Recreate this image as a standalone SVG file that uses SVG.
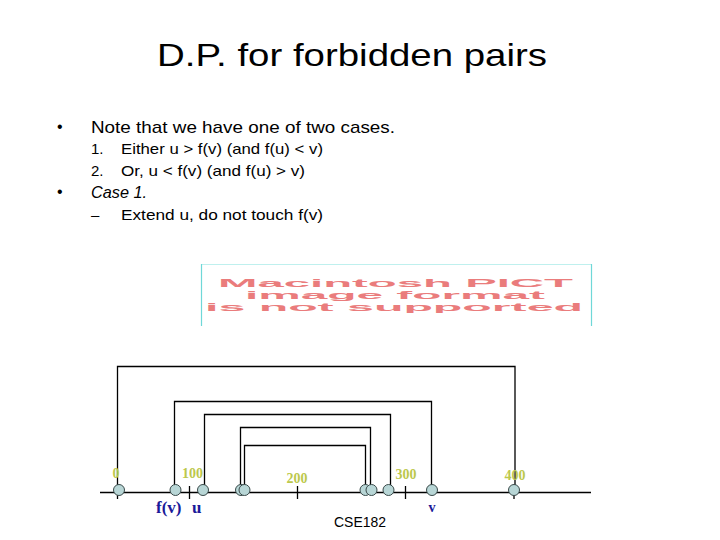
<svg xmlns="http://www.w3.org/2000/svg" width="720" height="540" viewBox="0 0 720 540">
<style>
.t{font-family:"Liberation Sans","DejaVu Sans",sans-serif;fill:#000}
.num{font-family:"Liberation Serif",serif;font-weight:bold;font-size:14px;fill:#bcc84c;text-anchor:middle}
.lab{font-family:"Liberation Serif",serif;font-weight:bold;fill:#1a1a99}
.ln{stroke:#000;stroke-width:1.3;fill:none}
.nd{fill:#b8d6d6;stroke:#3a4a4a;stroke-width:1}
.pict{font-family:"Liberation Sans",sans-serif;font-weight:bold;font-size:10.5px;fill:#ea7c7c}
</style>
<rect width="720" height="540" fill="#fff"/>
<text class="t" x="157" y="66" font-size="32" textLength="390" lengthAdjust="spacingAndGlyphs">D.P. for forbidden pairs</text>
<g id="bullets">
<text class="t" x="57" y="132" font-size="16">•</text>
<text class="t" x="91" y="133" font-size="17" textLength="304" lengthAdjust="spacingAndGlyphs">Note that we have one of two cases.</text>
<text class="t" x="91" y="154" font-size="15">1.</text>
<text class="t" x="121" y="154" font-size="15" textLength="202" lengthAdjust="spacingAndGlyphs">Either u &gt; f(v) (and f(u) &lt; v)</text>
<text class="t" x="91" y="176" font-size="15">2.</text>
<text class="t" x="121" y="176" font-size="15" textLength="184" lengthAdjust="spacingAndGlyphs">Or, u &lt; f(v)  (and f(u) &gt; v)</text>
<text class="t" x="57" y="197" font-size="16">•</text>
<text class="t" x="91" y="198" font-size="17" font-style="italic" textLength="56" lengthAdjust="spacingAndGlyphs">Case 1.</text>
<text class="t" x="91" y="220" font-size="15">–</text>
<text class="t" x="121" y="220" font-size="15" textLength="202" lengthAdjust="spacingAndGlyphs">Extend u, do not touch f(v)</text>
</g>
<g id="pict">
<line x1="201" y1="264.5" x2="592" y2="264.5" stroke="#bff0ee" stroke-width="1"/>
<line x1="201.5" y1="264" x2="201.5" y2="326" stroke="#6fd8d8" stroke-width="1.2"/>
<line x1="591.5" y1="264" x2="591.5" y2="326" stroke="#6fd8d8" stroke-width="1.2"/>
<text class="pict" x="218" y="286.5" textLength="355" lengthAdjust="spacingAndGlyphs">Macintosh PICT</text>
<text class="pict" x="245" y="298.5" textLength="300" lengthAdjust="spacingAndGlyphs">image format</text>
<text class="pict" x="205" y="310.5" textLength="378" lengthAdjust="spacingAndGlyphs">is not supported</text>
</g>
<g id="connectors">
<line class="ln" x1="100" y1="492.5" x2="591" y2="492.5"/>
<path class="ln" d="M117.5,490 V366.5 H515 V490"/>
<path class="ln" d="M174.5,490 V401.5 H431.5 V490"/>
<path class="ln" d="M204.5,490 V414.5 H390.5 V490"/>
<path class="ln" d="M240.5,490 V427.5 H370.5 V490"/>
<path class="ln" d="M244.5,490 V445.5 H365.5 V490"/>
<line class="ln" x1="117.5" y1="492" x2="117.5" y2="499"/>
<line class="ln" x1="189.5" y1="486" x2="189.5" y2="499"/>
<line class="ln" x1="297.5" y1="486" x2="297.5" y2="499"/>
<line class="ln" x1="405.5" y1="486" x2="405.5" y2="499"/>
<line class="ln" x1="514" y1="492" x2="514" y2="499"/>
</g>
<g id="nodes">
<circle id="n0" class="nd" cx="119" cy="490" r="5.5"/>
<circle id="nfv" class="nd" cx="175.5" cy="490" r="5.5"/>
<circle id="nu" class="nd" cx="203" cy="490" r="5.5"/>
<circle id="n3" class="nd" cx="241" cy="490" r="5.5"/>
<circle id="n4" class="nd" cx="244.5" cy="490" r="5.5"/>
<circle id="n5" class="nd" cx="365.5" cy="490" r="5.5"/>
<circle id="n6" class="nd" cx="371.5" cy="490" r="5.5"/>
<circle id="n7" class="nd" cx="388.5" cy="490" r="5.5"/>
<circle id="nv" class="nd" cx="432" cy="490" r="5.5"/>
<circle id="n400" class="nd" cx="514" cy="490" r="5.5"/>
</g>
<g id="labels">
<text class="num" x="116" y="478">0</text>
<text class="num" x="192.5" y="478">100</text>
<text class="num" x="297" y="483">200</text>
<text class="num" x="406" y="479">300</text>
<text class="num" x="515" y="480">400</text>
<text class="lab" x="156" y="513" font-size="17">f(v)</text>
<text class="lab" x="192" y="513" font-size="17">u</text>
<text class="lab" x="432" y="512" font-size="14" text-anchor="middle">v</text>
<text class="t" x="334" y="527" font-size="14" fill="#333" textLength="52" lengthAdjust="spacingAndGlyphs">CSE182</text>
</g>
</svg>
